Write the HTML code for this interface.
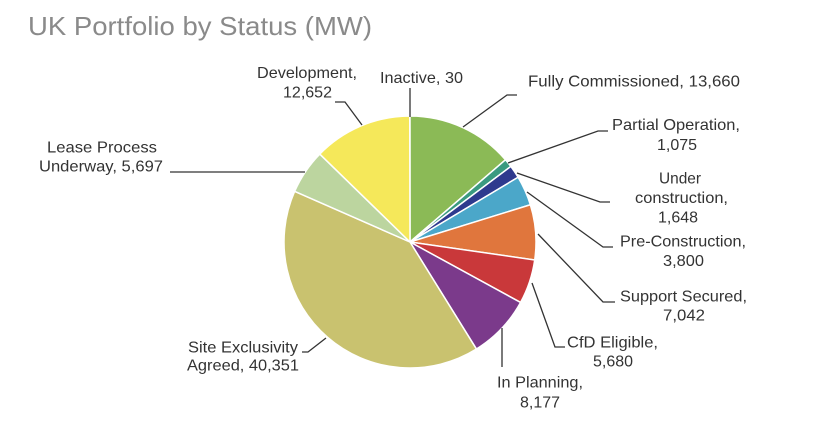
<!DOCTYPE html>
<html>
<head>
<meta charset="utf-8">
<style>
html,body{margin:0;padding:0;background:#fff;}
svg{display:block;}
text{font-family:"Liberation Sans",Arial,sans-serif;}
.l{font-size:16px;fill:#333;}
</style>
</head>
<body>
<svg width="818" height="436" viewBox="0 0 818 436" xmlns="http://www.w3.org/2000/svg">
<rect width="818" height="436" fill="#fff"/>
<text x="28" y="35" font-size="26" fill="#8a8a8a" textLength="344" lengthAdjust="spacingAndGlyphs">UK Portfolio by Status (MW)</text>

<g stroke="#fff" stroke-width="1.5" stroke-linejoin="round">
<path d="M410,242 L410,116 A126,126 0 0,1 505.47,159.77 Z" fill="#8BBA56"/>
<path d="M410,242 L505.47,159.77 A126,126 0 0,1 510.85,166.46 Z" fill="#3A9A80"/>
<path d="M410,242 L510.85,166.46 A126,126 0 0,1 518.10,177.26 Z" fill="#2E3A8E"/>
<path d="M410,242 L518.10,177.26 A126,126 0 0,1 530.37,204.74 Z" fill="#4BA7C9"/>
<path d="M410,242 L530.37,204.74 A126,126 0 0,1 534.71,259.95 Z" fill="#E0763D"/>
<path d="M410,242 L534.71,259.95 A126,126 0 0,1 520.54,302.47 Z" fill="#C9383A"/>
<path d="M410,242 L520.54,302.47 A126,126 0 0,1 476.44,349.06 Z" fill="#7B3A8B"/>
<path d="M410,242 L476.44,349.06 A126,126 0 0,1 294.63,191.34 Z" fill="#C9C26F"/>
<path d="M410,242 L294.63,191.34 A126,126 0 0,1 319.77,154.05 Z" fill="#BCD59F"/>
<path d="M410,242 L319.77,154.05 A126,126 0 0,1 409.76,116 Z" fill="#F5E85A"/>
</g>

<g fill="none" stroke="#333" stroke-width="1.3">
<polyline points="335,102 345,102 362,125"/>
<polyline points="410,88 410,117"/>
<polyline points="517,95 507,95 463,127"/>
<polyline points="608,131 598,131 508,163"/>
<polyline points="610,202 600,202 517,173"/>
<polyline points="613,247 603,247 527,192"/>
<polyline points="615,302 603,302 538,234"/>
<polyline points="565,347 555,347 532,283"/>
<polyline points="502,367 502,328"/>
<polyline points="170,172 305,172"/>
<polyline points="302,352 308,352 326,338"/>
</g>

<g class="l">
<text x="257" y="78" textLength="100" lengthAdjust="spacingAndGlyphs">Development,</text>
<text x="283" y="97.5" textLength="49" lengthAdjust="spacingAndGlyphs">12,652</text>
<text x="380" y="83" textLength="83" lengthAdjust="spacingAndGlyphs">Inactive, 30</text>
<text x="528" y="86.5" textLength="212" lengthAdjust="spacingAndGlyphs">Fully Commissioned, 13,660</text>
<text x="612" y="130" textLength="128" lengthAdjust="spacingAndGlyphs">Partial Operation,</text>
<text x="657" y="150" textLength="40" lengthAdjust="spacingAndGlyphs">1,075</text>
<text x="659" y="183.5" textLength="42" lengthAdjust="spacingAndGlyphs">Under</text>
<text x="635" y="203" textLength="93" lengthAdjust="spacingAndGlyphs">construction,</text>
<text x="658" y="222.5" textLength="40" lengthAdjust="spacingAndGlyphs">1,648</text>
<text x="620" y="246.7" textLength="126" lengthAdjust="spacingAndGlyphs">Pre-Construction,</text>
<text x="663" y="266" textLength="41" lengthAdjust="spacingAndGlyphs">3,800</text>
<text x="620" y="301.7" textLength="127" lengthAdjust="spacingAndGlyphs">Support Secured,</text>
<text x="663" y="320.7" textLength="42" lengthAdjust="spacingAndGlyphs">7,042</text>
<text x="567" y="347.7" textLength="91" lengthAdjust="spacingAndGlyphs">CfD Eligible,</text>
<text x="593" y="366.7" textLength="40" lengthAdjust="spacingAndGlyphs">5,680</text>
<text x="497" y="387.7" textLength="86" lengthAdjust="spacingAndGlyphs">In Planning,</text>
<text x="520" y="407.3" textLength="40" lengthAdjust="spacingAndGlyphs">8,177</text>
<text x="47" y="152.7" textLength="110" lengthAdjust="spacingAndGlyphs">Lease Process</text>
<text x="39" y="171.7" textLength="124" lengthAdjust="spacingAndGlyphs">Underway, 5,697</text>
<text x="188" y="352.3" textLength="110" lengthAdjust="spacingAndGlyphs">Site Exclusivity</text>
<text x="187" y="370.7" textLength="112" lengthAdjust="spacingAndGlyphs">Agreed, 40,351</text>
</g>
</svg>
</body>
</html>
